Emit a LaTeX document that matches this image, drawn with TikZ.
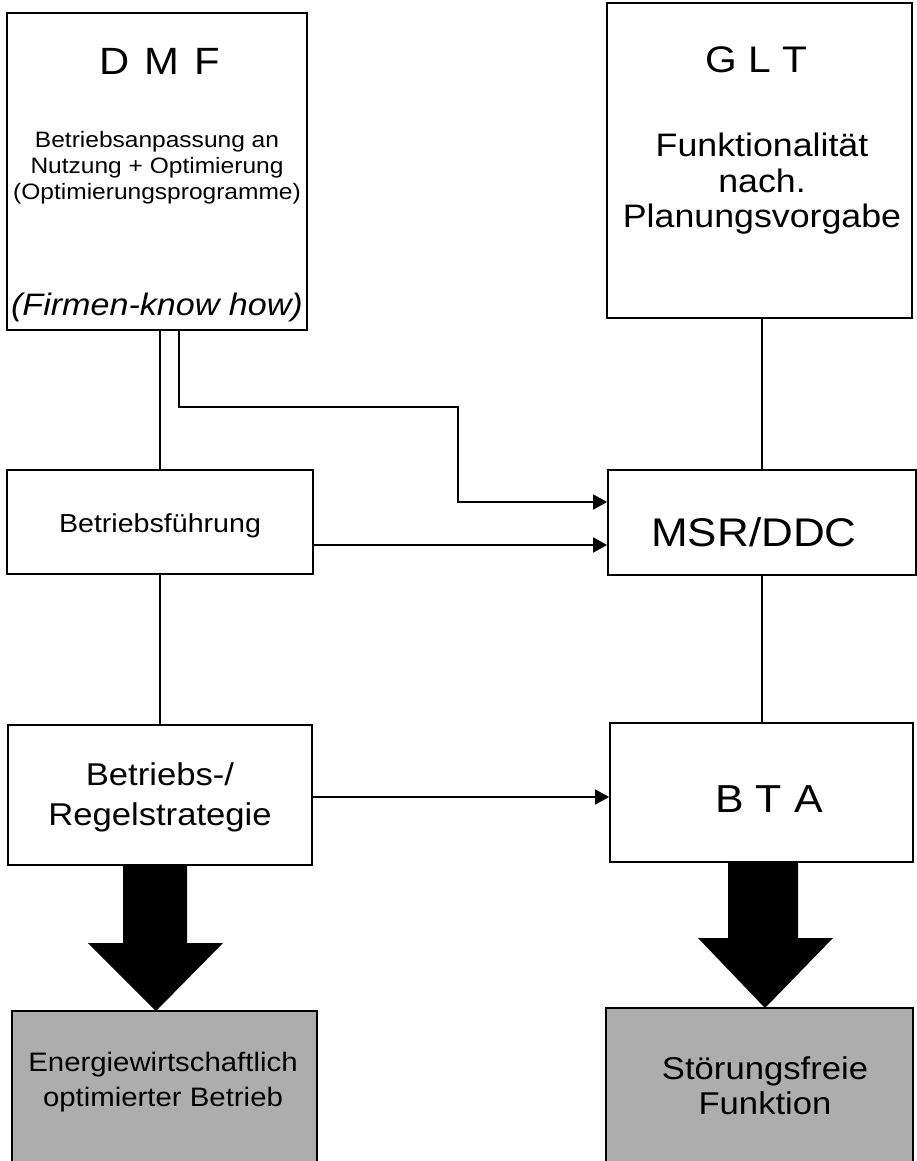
\documentclass[tikz,border=0pt]{standalone}
\usepackage{fontspec}
\setmainfont{Liberation Sans}[FakeStretch=1.1]
\usetikzlibrary{arrows.meta,calc}
\newcommand{\fsz}[2]{\fontsize{#1}{#2}\selectfont}
\begin{document}
\begin{tikzpicture}[x=1pt,y=-1pt,
  box/.style={draw, line width=1.8pt, inner sep=0pt},
  bigbox/.style={draw, line width=2.8pt, inner sep=0pt},
  resbox/.style={draw, line width=2.3pt, fill=black!32, inner sep=0pt},
  txt/.style={inner sep=0pt, align=center},
  link/.style={line width=1.7pt},
  arrow/.style={link, -{Triangle[length=14pt,width=15pt]}},
  bigarrow/.style={fill=black}]
\useasboundingbox (0,0) rectangle (917,1161);

% boxes
\node[bigbox, minimum width=300pt, minimum height=317pt] (dmf) at (157,171.5) {};
\node[bigbox, minimum width=305pt, minimum height=315pt] (glt) at (759.5,160.5) {};
\node[box, minimum width=306pt, minimum height=104pt] (bf) at (160,522) {};
\node[box, minimum width=308pt, minimum height=105pt] (msr) at (762,522.5) {};
\node[box, minimum width=304pt, minimum height=140pt] (regel) at (160,795) {};
\node[box, minimum width=303pt, minimum height=139pt] (bta) at (761.5,792.5) {};
\node[resbox, minimum width=305pt, minimum height=159pt] (energie) at (164.5,1090.5) {};
\node[resbox, minimum width=307pt, minimum height=162pt] (stoer) at (759.5,1089) {};

% texts
\node[txt, font=\fsz{38}{42}, anchor=base] (dmfT) at (160,75) {D\hspace{0.4em}M\hspace{0.4em}F};
\node[txt, font=\fsz{22.3}{26}] (dmfS) at (157,168) {Betriebsanpassung an\\Nutzung + Optimierung\\(Optimierungsprogramme)};
\node[txt, font=\fsz{31}{34}\itshape, anchor=base] (dmfF) at (157,315) {(Firmen-know how)};
\node[txt, font=\fsz{37}{42}, anchor=base] (gltT) at (756,73) {G L T};
\node[txt, font=\fsz{32.5}{35.5}] (gltS) at (762,184) {Funktionalität\\nach.\\Planungsvorgabe};
\node[txt, font=\fsz{26}{30}, anchor=base] (bfT) at (160,532) {Betriebsführung};
\node[txt, font=\fsz{31.5}{40}] (regT) at (160,797) {Betriebs-/\\Regelstrategie};
\node[txt, font=\fsz{40}{46}, anchor=base] (msrT) at (754,546) {MSR/DDC};
\node[txt, font=\fsz{39}{44}, anchor=base] (btaT) at (769,812) {B T A};
\node[txt, font=\fsz{26.7}{35}] (enT) at (163,1082) {Energiewirtschaftlich\\optimierter Betrieb};
\node[txt, font=\fsz{31.5}{35}] (stT) at (765,1086) {Störungsfreie\\Funktion};

% plain connectors
\draw[link] (dmf.south -| bf.north) -- (bf.north);
\draw[link] (bf.south) -- (regel.north -| bf.south);
\draw[link] (glt.south -| msr.north) -- (msr.north);
\draw[link] (msr.south) -- (bta.north -| msr.south);

% arrows
\coordinate (bend) at (458,407);
\draw[arrow] ([xshift=22pt]dmf.south) |- (bend) |- ([yshift=20.5pt]msr.west);
\draw[arrow] ([yshift=-23pt]bf.east) -- ([yshift=-23pt]bf.east -| msr.west);
\draw[arrow] ([yshift=-2pt]regel.east) -- ([yshift=-2pt]regel.east -| bta.west);

% big arrows
\fill[bigarrow] (123,865) -- (187,865) -- (187,943) -- (223,943) -- (156,1011) -- (88,943) -- (123,943) -- cycle;
\fill[bigarrow] (728,862) -- (798,862) -- (798,938) -- (833,938) -- (765,1008) -- (698,938) -- (728,938) -- cycle;
\end{tikzpicture}
\end{document}
